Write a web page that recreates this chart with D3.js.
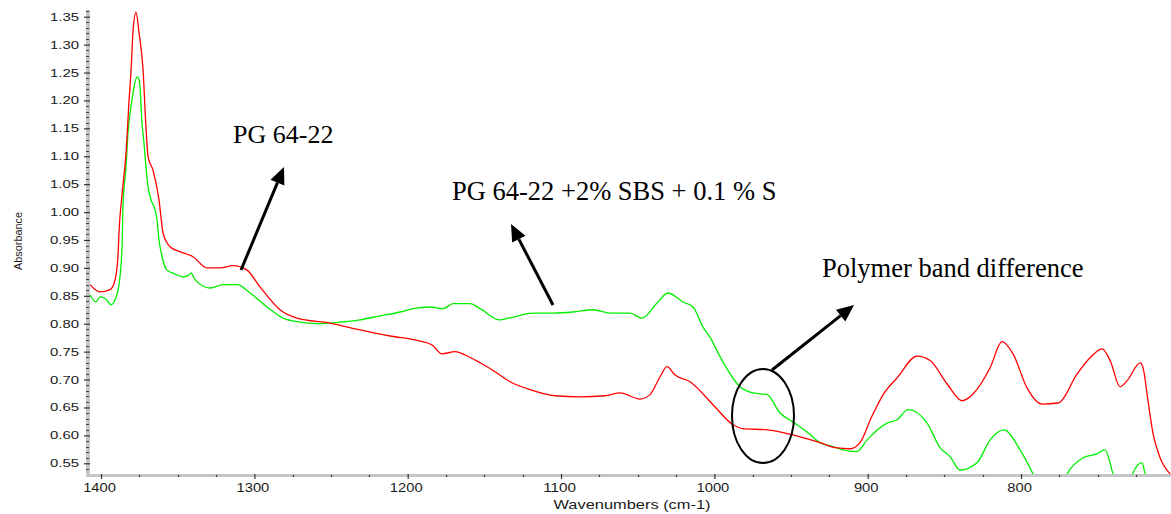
<!DOCTYPE html>
<html>
<head>
<meta charset="utf-8">
<script src="https://cdn.jsdelivr.net/npm/d3@7"></script>
<style>
  body { margin: 0; background: #fff; }
  svg { display: block; }
</style>
</head>
<body>
<svg id="chart" width="1171" height="514"></svg>
<script>
// FTIR spectra, PG 64-22 binder (red) and PG 64-22 +2% SBS + 0.1 % S (green)
const wavenumbersPG = [1407.2,1400.7,1394.1,1390.9,1388.9,1388.3,1386.3,1383.7,1381.7,1380.4,1379.1,1377.2,1375.2,1372.6,1370.7,1369.3,1366.1,1362.2,1359.6,1357.0,1355.0,1348.5,1340.0,1330.9,1322.4,1313.9,1304.8,1296.3,1283.3,1272.2,1250.7,1231.1,1211.5,1192.0,1184.1,1177.6,1169.1,1162.6,1152.8,1143.0,1133.2,1120.2,1103.9,1087.6,1071.3,1061.5,1048.5,1042.0,1035.4,1030.9,1025.6,1015.9,1000.9,987.8,981.3,965.6,948.7,931.1,921.3,911.5,905.0,897.8,889.7,880.8,867.8,859.3,848.2,838.4,831.3,820.2,812.4,805.2,796.1,786.3,775.8,763.4,755.0,747.1,741.9,735.4,730.8,722.3,720.4,717.2,713.9,709.3,702.8];
const absorbancePG = [0.870,0.857,0.861,0.878,0.923,0.963,1.031,1.106,1.201,1.255,1.326,1.358,1.321,1.255,1.152,1.099,1.075,1.022,0.963,0.945,0.938,0.929,0.920,0.900,0.900,0.904,0.896,0.866,0.825,0.810,0.801,0.789,0.778,0.769,0.762,0.746,0.750,0.744,0.730,0.714,0.696,0.682,0.671,0.669,0.671,0.676,0.665,0.673,0.705,0.723,0.708,0.696,0.655,0.619,0.612,0.610,0.601,0.587,0.578,0.576,0.587,0.631,0.674,0.703,0.742,0.734,0.692,0.662,0.674,0.721,0.768,0.746,0.685,0.656,0.658,0.710,0.739,0.755,0.734,0.687,0.698,0.730,0.721,0.662,0.603,0.560,0.531];

const wavenumbersSBS = [1407.2,1403.3,1400.7,1396.7,1393.5,1390.9,1388.3,1386.3,1385.7,1383.7,1382.4,1379.8,1376.5,1375.2,1374.6,1373.3,1372.0,1370.7,1369.3,1367.4,1364.8,1363.5,1362.2,1360.2,1357.0,1351.7,1346.5,1343.3,1341.3,1338.7,1328.9,1320.4,1311.3,1302.8,1291.7,1281.3,1270.2,1257.2,1244.1,1231.1,1218.0,1205.0,1196.5,1185.4,1176.9,1170.4,1159.3,1152.8,1139.8,1131.3,1118.2,1105.2,1092.2,1079.1,1068.0,1055.0,1047.2,1037.4,1030.2,1020.5,1013.9,1007.4,1002.9,996.3,983.3,974.8,965.6,957.2,948.7,939.6,931.1,922.6,916.1,907.0,900.4,887.4,880.8,873.7,861.3,852.8,846.3,839.8,828.7,820.2,811.1,800.6,792.2,787.6,774.6,770.0,759.5,750.4,745.2,740.0,736.7,730.2,726.9,721.1,719.1,715.8,702.2];
const absorbanceSBS = [0.852,0.839,0.848,0.844,0.834,0.843,0.870,0.938,1.009,1.081,1.142,1.201,1.242,1.237,1.224,1.160,1.124,1.081,1.045,1.022,1.004,0.986,0.950,0.920,0.896,0.889,0.884,0.886,0.891,0.879,0.864,0.870,0.870,0.855,0.830,0.810,0.803,0.800,0.803,0.807,0.814,0.821,0.827,0.830,0.827,0.836,0.836,0.827,0.807,0.812,0.819,0.819,0.821,0.825,0.819,0.819,0.810,0.837,0.855,0.839,0.830,0.794,0.776,0.741,0.687,0.676,0.673,0.640,0.624,0.606,0.587,0.580,0.574,0.571,0.592,0.622,0.628,0.646,0.622,0.578,0.562,0.538,0.551,0.592,0.610,0.574,0.531,0.505,0.505,0.531,0.560,0.567,0.574,0.531,0.505,0.505,0.533,0.551,0.531,0.505,0.505];

const xTickValues = [1400, 1300, 1200, 1100, 1000, 900, 800];
const yTickValues = [0.55, 0.60, 0.65, 0.70, 0.75, 0.80, 0.85, 0.90, 0.95, 1.00, 1.05, 1.10, 1.15, 1.20, 1.25, 1.30, 1.35];
const xMinorStep = 25;
const yMinorStep = 0.01;

const seriesLabels = ["PG 64-22", "PG 64-22 +2% SBS + 0.1 % S"];
const bandLabel = "Polymer band difference";
const xTitle = "Wavenumbers (cm-1)";
const yTitle = "Absorbance";

const svg = d3.select("#chart");
const plot = { left: 90, right: 1171, top: 10, bottom: 474 };
const sans = "Liberation Sans, Arial, sans-serif";

const x = d3.scaleLinear().domain([1407.2, 702.2]).range([plot.left, plot.right]);
const y = d3.scaleLinear().domain([0.5308, 1.3602]).range([plot.bottom, plot.top + 1]);

svg.append("defs").append("clipPath").attr("id", "plot-clip")
  .append("rect")
  .attr("x", plot.left).attr("y", plot.top - 2)
  .attr("width", plot.right - plot.left).attr("height", plot.bottom - plot.top + 2);

// axis bars
svg.append("rect").attr("x", 86).attr("y", plot.top).attr("width", 4)
  .attr("height", plot.bottom + 3 - plot.top).attr("fill", "#c6c6c6");
svg.append("rect").attr("x", 86).attr("y", plot.bottom).attr("width", plot.right - 86)
  .attr("height", 3).attr("fill", "#c6c6c6");

// y axis: labelled major ticks plus 0.01 minor ticks
const yMinor = d3.range(0.54, 1.3651, yMinorStep).filter(v => !yTickValues.some(t => Math.abs(t - v) < 1e-6));
const yAxis = d3.axisLeft(y).tickValues(yTickValues).tickFormat(d3.format(".2f"))
  .tickSize(6).tickSizeOuter(0).tickPadding(5);
const gy = svg.append("g").attr("transform", `translate(90,0)`).call(yAxis);
gy.select(".domain").remove();
gy.selectAll(".tick line").attr("stroke", "#333").attr("stroke-width", 1.2);
gy.selectAll(".tick text")
  .attr("font-family", sans).attr("font-size", 11).attr("fill", "#1a1a1a")
  .attr("textLength", 29).attr("lengthAdjust", "spacingAndGlyphs");
svg.append("g").selectAll("line").data(yMinor).join("line")
  .attr("x1", 86).attr("x2", 89)
  .attr("y1", d => Math.round(y(d)) + 0.5).attr("y2", d => Math.round(y(d)) + 0.5)
  .attr("stroke", "#444").attr("stroke-width", 1);

// x axis: labelled major ticks plus minor dots every 25 cm-1
const xMinor = d3.range(725, 1401, xMinorStep).filter(v => !xTickValues.includes(v));
const xAxis = d3.axisBottom(x).tickValues(xTickValues).tickFormat(d3.format("d"))
  .tickSize(5).tickSizeOuter(0).tickPadding(4);
const gx = svg.append("g").attr("transform", `translate(0,${plot.bottom})`).call(xAxis);
gx.select(".domain").remove();
gx.selectAll(".tick line").attr("stroke", "#333").attr("stroke-width", 1.2);
gx.selectAll(".tick text")
  .attr("font-family", sans).attr("font-size", 12).attr("fill", "#1a1a1a")
  .attr("dx", -2)
  .attr("textLength", d => String(d).length * 8.2).attr("lengthAdjust", "spacingAndGlyphs");
svg.append("g").selectAll("line").data(xMinor).join("line")
  .attr("x1", d => Math.round(x(d)) + 0.5).attr("x2", d => Math.round(x(d)) + 0.5)
  .attr("y1", plot.bottom + 1).attr("y2", plot.bottom + 3)
  .attr("stroke", "#333").attr("stroke-width", 1.2);

// axis titles
svg.append("text").attr("x", 632).attr("y", 509).attr("text-anchor", "middle")
  .attr("font-family", sans).attr("font-size", 12).attr("fill", "#1a1a1a")
  .attr("textLength", 157).attr("lengthAdjust", "spacingAndGlyphs").text(xTitle);
svg.append("text").attr("transform", "translate(22,241) rotate(-90)").attr("text-anchor", "middle")
  .attr("font-family", sans).attr("font-size", 11).attr("fill", "#1a1a1a")
  .attr("textLength", 58).attr("lengthAdjust", "spacingAndGlyphs").text(yTitle);

// spectra
const line = d3.line().x(d => x(d[0])).y(d => y(d[1])).curve(d3.curveMonotoneX);
const spectra = [
  { w: wavenumbersSBS, a: absorbanceSBS, color: "#00ee00" },
  { w: wavenumbersPG, a: absorbancePG, color: "#ff0000" }
];
const gLines = svg.append("g").attr("clip-path", "url(#plot-clip)");
spectra.forEach(s => {
  gLines.append("path")
    .datum(d3.zip(s.w, s.a))
    .attr("fill", "none").attr("stroke", s.color).attr("stroke-width", 1.3)
    .attr("stroke-linejoin", "round").attr("d", line);
});

// annotations
function arrow(x1, y1, x2, y2) {
  const ang = Math.atan2(y2 - y1, x2 - x1);
  const len = 17, half = 7.5;
  const bx = x2 - len * Math.cos(ang), by = y2 - len * Math.sin(ang);
  svg.append("line").attr("x1", x1).attr("y1", y1).attr("x2", bx).attr("y2", by)
    .attr("stroke", "#000").attr("stroke-width", 3);
  const px = -Math.sin(ang) * half, py = Math.cos(ang) * half;
  svg.append("polygon")
    .attr("points", `${x2},${y2} ${bx + px},${by + py} ${bx - px},${by - py}`)
    .attr("fill", "#000");
}
arrow(241, 270, 284, 167);
arrow(553, 305, 511, 224);
arrow(772, 370, 854, 305);

svg.append("ellipse").attr("cx", 763).attr("cy", 416).attr("rx", 31).attr("ry", 47)
  .attr("fill", "none").attr("stroke", "#000").attr("stroke-width", 2);

const serif = "Liberation Serif, Times New Roman, serif";
svg.append("text").attr("x", 233).attr("y", 143).attr("font-family", serif)
  .attr("font-size", 26).attr("fill", "#000").text(seriesLabels[0]);
svg.append("text").attr("x", 452).attr("y", 200).attr("font-family", serif)
  .attr("font-size", 26.5).attr("fill", "#000").text(seriesLabels[1]);
svg.append("text").attr("x", 822).attr("y", 277).attr("font-family", serif)
  .attr("font-size", 26.5).attr("fill", "#000").text(bandLabel);
</script>
</body>
</html>
